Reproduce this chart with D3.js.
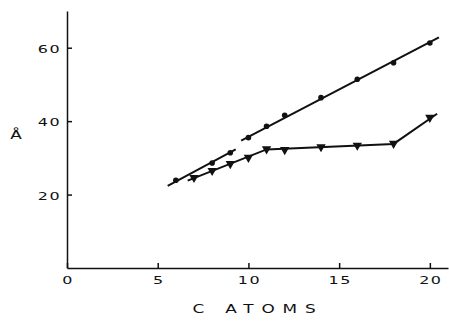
<!DOCTYPE html>
<html>
<head>
<meta charset="utf-8">
<script src="https://cdn.jsdelivr.net/npm/d3@7"></script>
<style>
  body { margin: 0; background: #fff; }
  svg { display: block; }
  text { font-family: "DejaVu Sans", sans-serif; fill: #111; }
</style>
</head>
<body>
<div id="chart"></div>
<script>
// carbon atoms vs spacing (Å)
const circleX = [6, 8, 9, 10, 11, 12, 14, 16, 18, 20];
const circleY = [23.9, 28.6, 31.4, 35.5, 38.6, 41.6, 46.4, 51.4, 55.9, 61.3];
const triangleX = [7, 8, 9, 10, 11, 12, 14, 16, 18, 20];
const triangleY = [24.6, 26.5, 28.4, 30.1, 32.4, 32.2, 33.0, 33.4, 33.9, 41.0];

// fitted lines drawn through the points
const fitShortX = [5.55, 9.3];
const fitShortY = [22.4, 32.3];
const fitLongX = [9.6, 20.5];
const fitLongY = [34.7, 62.8];
const fitTriX = [6.65, 11, 18, 20.4];
const fitTriY = [23.8, 32.3, 33.8, 42.0];

const xTicks = [0, 5, 10, 15, 20];
const yTicks = [20, 40, 60];

const width = 449,
      height = 325;

const svg = d3.select("#chart")
  .append("svg")
  .attr("width", width)
  .attr("height", height);

const xScale = d3.scaleLinear().domain([0, 21]).range([67, 448]);
const yScale = d3.scaleLinear().domain([0, 70]).range([268, 11]);

// axes, ticks pointing inward
const xAxis = d3.axisBottom(xScale).tickValues(xTicks).tickSize(-5).tickSizeOuter(0).tickFormat("");
svg.append("g")
  .attr("transform", "translate(0," + yScale(0) + ")")
  .call(xAxis)
  .call(g => g.selectAll("line, path").attr("stroke", "#111").attr("stroke-width", 1.5));

const yAxis = d3.axisLeft(yScale).tickValues(yTicks).tickSize(-5).tickSizeOuter(0).tickFormat("");
svg.append("g")
  .attr("transform", "translate(" + xScale(0) + ",0)")
  .call(yAxis)
  .call(g => g.selectAll("line, path").attr("stroke", "#111").attr("stroke-width", 1.5));

// wide lettering for tick labels
svg.selectAll(".xlab")
  .data(xTicks)
  .enter()
  .append("text")
  .attr("class", "xlab")
  .attr("transform", d => "translate(" + (xScale(d) + 1) + ",284) scale(1.45,1)")
  .attr("text-anchor", "middle")
  .attr("font-size", 11)
  .attr("letter-spacing", 1)
  .text(d => d);

svg.selectAll(".ylab")
  .data(yTicks)
  .enter()
  .append("text")
  .attr("class", "ylab")
  .attr("transform", d => "translate(61," + (yScale(d) + 5) + ") scale(1.45,1)")
  .attr("text-anchor", "end")
  .attr("font-size", 11)
  .attr("letter-spacing", 1)
  .text(d => d);

// axis titles
svg.append("text")
  .attr("transform", "translate(258,313) scale(1.3,1)")
  .attr("text-anchor", "middle")
  .attr("font-size", 13)
  .attr("letter-spacing", 6)
  .text("C ATOMS");

svg.append("text")
  .attr("transform", "translate(16,139) scale(1.3,1)")
  .attr("text-anchor", "middle")
  .attr("font-size", 13)
  .text("Å");

// fitted lines
const line = d3.line()
  .x(d => xScale(d[0]))
  .y(d => yScale(d[1]));

const fits = [
  d3.zip(fitShortX, fitShortY),
  d3.zip(fitLongX, fitLongY),
  d3.zip(fitTriX, fitTriY)
];

svg.selectAll(".fit")
  .data(fits)
  .enter()
  .append("path")
  .attr("class", "fit")
  .attr("d", line)
  .attr("fill", "none")
  .attr("stroke", "#111")
  .attr("stroke-width", 2);

// points
svg.selectAll(".dot")
  .data(d3.zip(circleX, circleY))
  .enter()
  .append("circle")
  .attr("class", "dot")
  .attr("cx", d => xScale(d[0]))
  .attr("cy", d => yScale(d[1]))
  .attr("r", 2.8)
  .attr("fill", "#111");

const tri = d3.symbol().type(d3.symbolTriangle).size(38);
svg.selectAll(".tri")
  .data(d3.zip(triangleX, triangleY))
  .enter()
  .append("path")
  .attr("class", "tri")
  .attr("d", tri)
  .attr("transform", d => "translate(" + xScale(d[0]) + "," + yScale(d[1]) + ") rotate(180)")
  .attr("fill", "#111");
</script>
</body>
</html>
